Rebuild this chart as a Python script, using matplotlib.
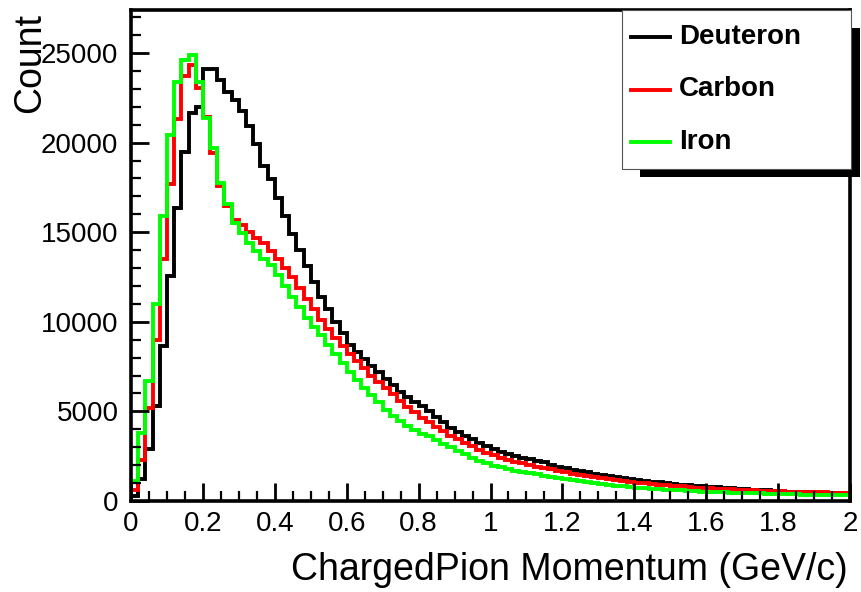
import numpy as np
import matplotlib
matplotlib.use("Agg")
import matplotlib.pyplot as plt
from matplotlib.patches import Rectangle
from matplotlib.lines import Line2D
from matplotlib.ticker import MultipleLocator, FixedLocator, FixedFormatter

plt.rcParams["font.family"] = ["Liberation Sans", "DejaVu Sans"]

# 100 bins from 0 to 2 GeV/c
edges = np.linspace(0, 2, 101)

deuteron = [300, 1200, 2900, 5300, 8650, 12550, 16350, 19500, 21650, 22000,
            24100, 24100, 23500, 22850, 22400, 21750, 20900, 19900, 18700, 17950,
            16900, 15900, 14900, 14000, 13100, 12200, 11400, 10700, 10000, 9350,
            8700, 8300, 7900, 7550, 7200, 6800, 6450, 6100, 5800, 5550,
            5300, 5050, 4700, 4400, 4100, 3850, 3650, 3450, 3250, 3050,
            2900, 2750, 2620, 2500, 2420, 2330, 2250, 2150, 2000, 1900,
            1820, 1750, 1680, 1600, 1530, 1460, 1400, 1340, 1280, 1230,
            1180, 1130, 1080, 1040, 1000, 960, 920, 880, 850, 820,
            790, 760, 730, 700, 680, 650, 630, 610, 590, 570,
            550, 530, 515, 500, 485, 470, 455, 440, 425, 410]

carbon = [600, 2300, 5200, 9000, 13500, 17700, 21300, 23700, 24350, 23050,
          21450, 19400, 17600, 16450, 15700, 15400, 15000, 14700, 14400, 13950,
          13500, 13000, 12500, 11900, 11300, 10700, 10100, 9600, 9100, 8650,
          8200, 7800, 7400, 7000, 6650, 6300, 5950, 5600, 5250, 4950,
          4650, 4400, 4150, 3900, 3650, 3450, 3250, 3050, 2850, 2700,
          2550, 2420, 2300, 2200, 2100, 2000, 1920, 1840, 1760, 1680,
          1600, 1530, 1460, 1390, 1330, 1270, 1210, 1160, 1110, 1060,
          1020, 980, 940, 900, 870, 840, 810, 780, 750, 730,
          710, 690, 670, 650, 630, 610, 595, 580, 565, 550,
          540, 530, 520, 510, 500, 490, 480, 470, 460, 450]

iron = [1100, 3800, 6700, 11000, 15900, 20400, 23400, 24600, 24900, 23400,
        21400, 19700, 17750, 16600, 15500, 14950, 14400, 13950, 13500, 13150,
        12600, 12000, 11400, 10800, 10200, 9700, 9250, 8700, 8200, 7700,
        7200, 6750, 6300, 5900, 5500, 5100, 4750, 4450, 4200, 3950,
        3750, 3600, 3400, 3200, 3000, 2800, 2600, 2420, 2250, 2100,
        1980, 1870, 1780, 1700, 1620, 1550, 1480, 1410, 1340, 1270,
        1210, 1150, 1090, 1040, 990, 940, 900, 860, 820, 780,
        750, 720, 690, 660, 635, 610, 590, 570, 550, 530,
        515, 500, 485, 470, 455, 440, 430, 420, 410, 400,
        390, 380, 370, 360, 350, 345, 340, 335, 330, 325]

names = ["Deuteron", "Carbon", "Iron"]
colors = ["black", "#ff0000", "#00ff00"]

xticks = [0, 0.2, 0.4, 0.6, 0.8, 1, 1.2, 1.4, 1.6, 1.8, 2]
xticklabels = ["0", "0.2", "0.4", "0.6", "0.8", "1", "1.2", "1.4", "1.6", "1.8", "2"]
yticks = [0, 5000, 10000, 15000, 20000, 25000]

W, H = 861, 592


def fx(x):
    return x / W


def fy(y):
    return 1 - y / H


fig = plt.figure(figsize=(W / 100, H / 100), dpi=100)
ax = fig.add_axes([fx(131), fy(501), (850 - 131) / W, (501 - 10) / H])

for vals, c in zip([deuteron, carbon, iron], colors):
    ax.stairs(vals, edges, color=c, linewidth=2.8, baseline=0)

ax.set_xlim(0, 2)
ax.set_ylim(0, 27400)

ax.xaxis.set_major_locator(FixedLocator(xticks))
ax.xaxis.set_major_formatter(FixedFormatter(xticklabels))
ax.xaxis.set_minor_locator(MultipleLocator(0.05))
ax.yaxis.set_major_locator(FixedLocator(yticks))
ax.yaxis.set_minor_locator(MultipleLocator(1000))

for s in ax.spines.values():
    s.set_linewidth(2.6)
ax.tick_params(which="both", direction="in", top=False, right=False)
ax.tick_params(which="major", length=13, width=2, labelsize=20)
ax.tick_params(axis="x", which="major", pad=7)
ax.tick_params(axis="y", which="major", pad=9)
ax.tick_params(which="minor", length=7, width=1.6)

fig.text(fx(848), fy(570), "ChargedPion Momentum (GeV/c)", fontsize=27,
         ha="right", va="center")
fig.text(fx(30), fy(13), "Count", fontsize=27, rotation=90,
         ha="center", va="top")

# legend box with a solid drop shadow
fig.patches.append(Rectangle((fx(640), fy(177)), (860 - 640) / W, (177 - 28) / H,
                             transform=fig.transFigure, facecolor="black",
                             edgecolor="none", zorder=5))
fig.patches.append(Rectangle((fx(621.5), fy(169)), (850.5 - 621.5) / W, (169 - 10) / H,
                             transform=fig.transFigure, facecolor="white",
                             edgecolor="#555555", linewidth=0.8, zorder=6))
for i, (n, c) in enumerate(zip(names, colors)):
    y = 37 + i * 52.5
    fig.lines.append(Line2D([fx(631), fx(670)], [fy(y), fy(y)], color=c,
                            linewidth=2.8, transform=fig.transFigure, zorder=7))
    fig.text(fx(679), fy(y), n, fontsize=20, fontweight="bold",
             ha="left", va="center", zorder=7)

fig.savefig("out.png", dpi=100)
